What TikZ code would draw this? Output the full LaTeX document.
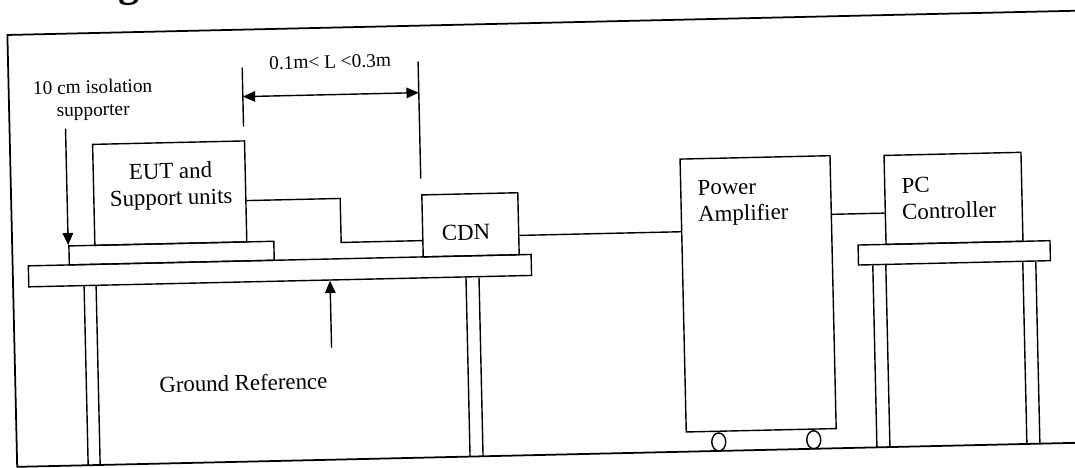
\documentclass[tikz,border=0pt]{standalone}
\usepackage{fontspec}
\setmainfont{Liberation Serif}
\usetikzlibrary{arrows.meta,positioning}

\begin{document}
\begin{tikzpicture}[x=0.02cm,y=-0.02cm,line width=0.8pt,
>={Triangle[length=7pt,width=6pt]},
box/.style={draw,rectangle,inner sep=0pt,anchor=south west},
lbl/.style={inner sep=0pt,font=\fontsize{13}{15}\selectfont,align=center},
small/.style={inner sep=0pt,font=\fontsize{11}{13}\selectfont,align=center}]
\useasboundingbox (0,0) rectangle (1075,467);
\begin{scope}[transform canvas={rotate around={1.3:(537,233)}}]
% heading, mostly cut off at the top
\node[anchor=base west,inner sep=0pt,font=\fontsize{24}{28}\selectfont\bfseries] (title) at (-3,-13) {6.5 Diagram of Test System};
% frame
\draw[line width=1pt] (1120,23) -- (12,23) -- (12,455) -- (1120,455);
% tables
\node[box,minimum width=10.06cm,minimum height=.42cm] (tableL) at (27,276) {};
\node[box,minimum width=3.84cm,minimum height=.4cm] (tableR) at (857,273) {};
\foreach \x in {83,95,465,478} \draw (\x,276) -- (\x,455);
\foreach \x in {872,885,1022,1035} \draw (\x,273) -- (\x,455);
% equipment
\node[box,minimum width=4.1cm,minimum height=.38cm] (iso) at (68,255) {};
\node[box,minimum width=3.04cm,minimum height=2.02cm] (eut) at (94,236) {};
\node[box,minimum width=1.92cm,minimum height=1.24cm] (cdn) at (422,255) {};
\node[box,minimum width=3cm,minimum height=5.46cm] (amp) at (681,436) {};
\node[box,minimum width=2.74cm,minimum height=1.78cm] (pc) at (885,253) {};
\draw (714,446) ellipse [x radius=7,y radius=9];
\draw (809,446) ellipse [x radius=7,y radius=9];
\node[lbl] (euttxt) at (172,178) {EUT and\\Support units};
\node[lbl] (cdntxt) at (466,231) {CDN};
\node[lbl,align=left,anchor=west] (amptxt) at (698,207) {Power\\Amplifier};
\node[lbl,align=left,anchor=west] (pctxt) at (902,207) {PC\\Controller};
% cables
\draw (eut.east |- 0,194) -| (341,238) -- (cdn.west |- 0,238);
\draw (cdn.east |- 0,235) -- (amp.west |- 0,235);
\draw (amp.east |- 0,221) -- (pc.west |- 0,221);
% length between EUT and CDN
\draw (246,61) -- (246,120);
\draw (cdn.north west |- 0,59) -- (cdn.north west |- 0,176);
\draw[<->] (246,90) -- (cdn.north west |- 0,90);
\node[small] (len) at (334,57) {0.1m< L <0.3m};
% isolation supporter
\node[small] (isotxt) at (96,90) {10 cm isolation\\supporter};
\draw[->] (iso.north west |- 0,118) -- (iso.north west);
% ground reference
\node[lbl] (gnd) at (240,376) {Ground Reference};
\draw[->] (329,343) -- (tableL.south west -| 329,0);
\end{scope}
\end{tikzpicture}
\end{document}
